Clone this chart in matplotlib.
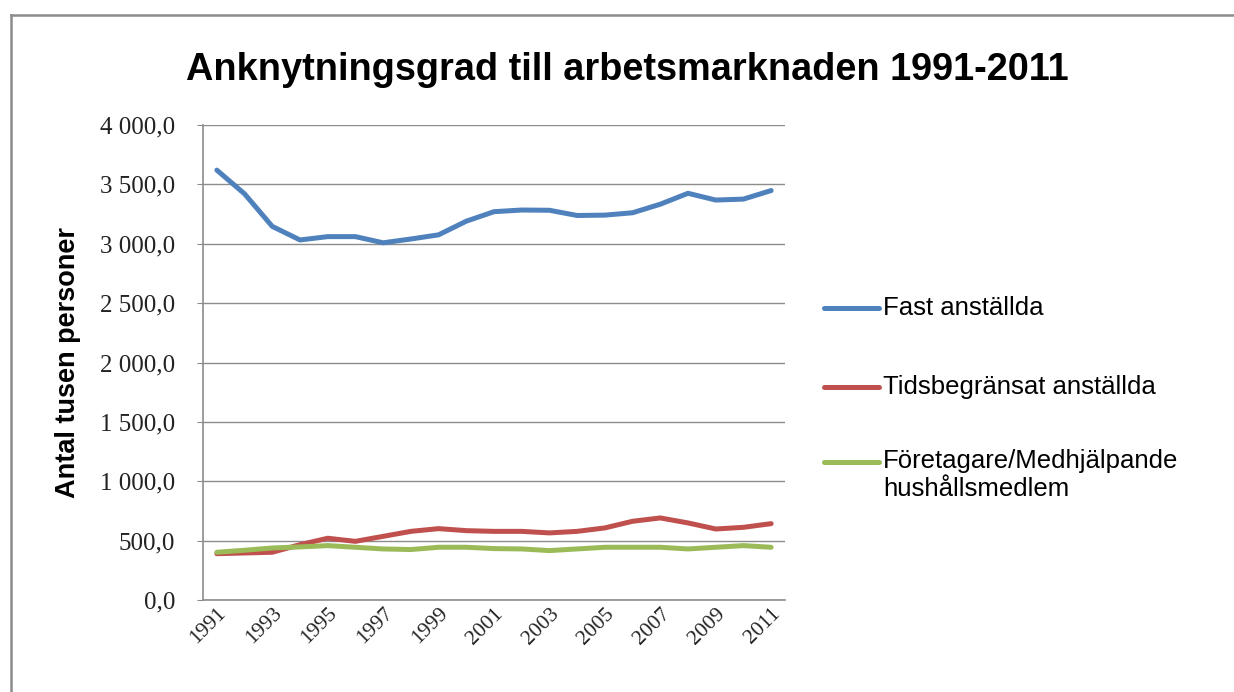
import matplotlib
matplotlib.use("Agg")
import matplotlib.pyplot as plt
from matplotlib.lines import Line2D
from matplotlib.ticker import FuncFormatter, FixedLocator
from matplotlib.transforms import ScaledTranslation

years = list(range(1991, 2012))
fast = [3620, 3420, 3146, 3032, 3060, 3060, 3008, 3040, 3075, 3190, 3270, 3284,
        3282, 3238, 3241, 3261, 3333, 3425, 3368, 3376, 3448]
tids = [390, 396, 402, 466, 520, 494, 536, 578, 601, 584, 578, 578,
        565, 578, 607, 663, 691, 649, 598, 612, 643]
foret = [402, 419, 438, 447, 458, 444, 430, 425, 444, 444, 433, 430,
         416, 430, 444, 444, 444, 430, 444, 458, 444]
series_labels = ["Fast anställda", "Tidsbegränsat anställda",
                 "Företagare/Medhjälpande\nhushållsmedlem"]
colors = ["#4F81BD", "#C0504D", "#9BBB59"]
title = "Anknytningsgrad till arbetsmarknaden 1991-2011"
ylabel = "Antal tusen personer"
yticks = [0, 500, 1000, 1500, 2000, 2500, 3000, 3500, 4000]

W, H = 1234, 692
fig = plt.figure(figsize=(W / 100, H / 100), dpi=100)
fig.patch.set_facecolor("white")

ax = fig.add_axes([203 / W, 1 - 600 / H, (785 - 203) / W, (600 - 125) / H])
x = list(range(len(years)))
for vals, c in zip([fast, tids, foret], colors):
    ax.plot(x, vals, color=c, lw=3.6, solid_capstyle="round", solid_joinstyle="round", zorder=3)

ax.set_xlim(-0.5, len(years) - 0.5)
ax.set_ylim(0, 4000)
ax.yaxis.set_major_locator(FixedLocator(yticks))

def fmt(v, pos):
    s = f"{v:,.1f}"
    return s.replace(",", " ").replace(".", ",")

ax.yaxis.set_major_formatter(FuncFormatter(fmt))
ax.grid(axis="y", color="#8c8c8c", lw=1.0)
ax.set_axisbelow(True)
for sp in ["top", "right"]:
    ax.spines[sp].set_visible(False)
for sp in ["left", "bottom"]:
    ax.spines[sp].set_color("#8c8c8c")
    ax.spines[sp].set_linewidth(1.2)

ax.set_xticks(x[::2])
ax.set_xticklabels([str(y) for y in years[::2]], rotation=45, ha="right",
                   va="top", rotation_mode="anchor", family="Liberation Serif",
                   fontsize=15.5)
offset = ScaledTranslation(8 / 100, 0, fig.dpi_scale_trans)
for t in ax.get_xticklabels():
    t.set_transform(t.get_transform() + offset)
    t.set_color("#222222")
ax.tick_params(axis="x", length=0, pad=3)
ax.tick_params(axis="y", length=4, color="#8c8c8c", pad=16, labelsize=18)
for t in ax.get_yticklabels():
    t.set_family("Liberation Serif")
    t.set_color("#222222")

fig.text(68 / W, 1 - 362 / H, ylabel, rotation=90, ha="center", va="center",
         fontsize=19.5, fontweight="bold", family="Liberation Sans")

fig.text(627 / W, 1 - 80 / H, title, ha="center", va="baseline",
         fontsize=27.3, fontweight="bold", family="Liberation Sans")

# legend
leg_y = [308, 387, 462]
for lab, c, yy in zip(series_labels, colors, leg_y):
    fig.add_artist(Line2D([824 / W, 879 / W], [1 - yy / H, 1 - yy / H], color=c,
                          lw=3.6, solid_capstyle="round"))
    if "\n" in lab:
        fig.text(883 / W, 1 - (yy - 13) / H, lab, ha="left", va="top",
                 fontsize=18.5, family="Liberation Sans", linespacing=1.2)
    else:
        fig.text(883 / W, 1 - yy / H, lab, ha="left", va="center",
                 fontsize=18.5, family="Liberation Sans")

# outer frame
fig.add_artist(Line2D([11 / W, 1], [1 - 15 / H, 1 - 15 / H], color="#8c8c8c", lw=1.8))
fig.add_artist(Line2D([11 / W, 11 / W], [0, 1 - 15 / H], color="#8c8c8c", lw=1.8))

fig.savefig("out.png", dpi=100)
